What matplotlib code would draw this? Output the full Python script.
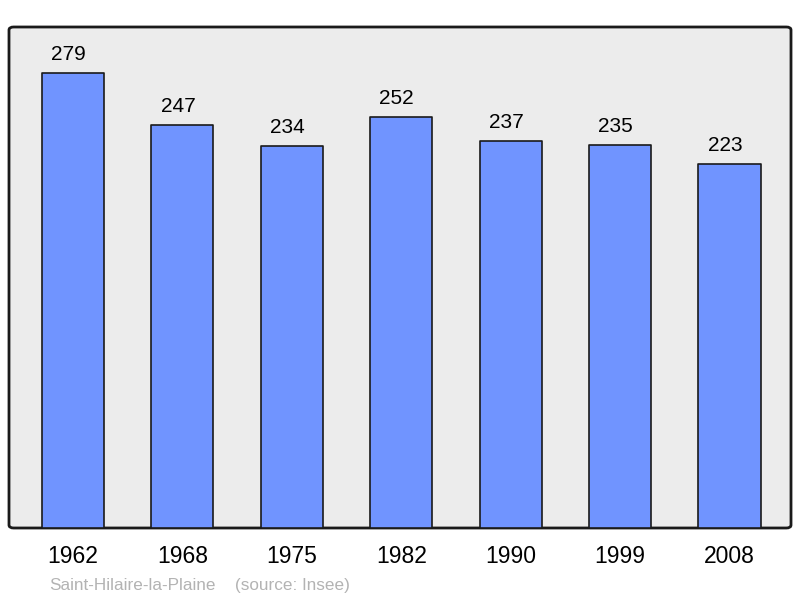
import matplotlib.pyplot as plt
from matplotlib.patches import FancyBboxPatch

years = ['1962', '1968', '1975', '1982', '1990', '1999', '2008']
population = [279, 247, 234, 252, 237, 235, 223]

plt.rcParams['font.family'] = ['Liberation Sans', 'DejaVu Sans']

fig = plt.figure(figsize=(8, 5.98), dpi=100)
ax = fig.add_axes([9 / 800, 1 - 528 / 598, 782 / 800, 501 / 598])
ax.set_facecolor('none')

# rounded frame behind the bars
frame = FancyBboxPatch((0, 0), 1, 1, boxstyle='round,pad=0,rounding_size=0.006',
                       transform=ax.transAxes, facecolor='#ececec', edgecolor='#1a1a1a',
                       linewidth=2, zorder=0, clip_on=False)
ax.add_patch(frame)

x = list(range(len(years)))
bars = ax.bar(x, population, width=0.567, color='#7094ff', edgecolor='#1a1a1a',
              linewidth=1.2, zorder=2)
for b in bars:
    b.set_joinstyle('round')

for xi, v in zip(x, population):
    ax.annotate(str(v), (xi, v), xytext=(-4.5, 13), textcoords='offset pixels',
                ha='center', va='baseline', fontsize=15, color='black')

ax.set_xlim(-0.585, 6.562)
ax.set_ylim(0, 307.2)
for s in ax.spines.values():
    s.set_visible(False)
ax.set_yticks([])
ax.set_xticks(x)
ax.set_xticklabels(years, fontsize=16.5)
ax.tick_params(axis='x', length=0, pad=12)

fig.text(49 / 800, 1 - 590 / 598, 'Saint-Hilaire-la-Plaine',
         fontsize=12.3, color='#b3b3b3', ha='left', va='baseline')
fig.text(235 / 800, 1 - 590 / 598, '(source: Insee)',
         fontsize=12.3, color='#b3b3b3', ha='left', va='baseline')

fig.savefig('out.png', dpi=100)
